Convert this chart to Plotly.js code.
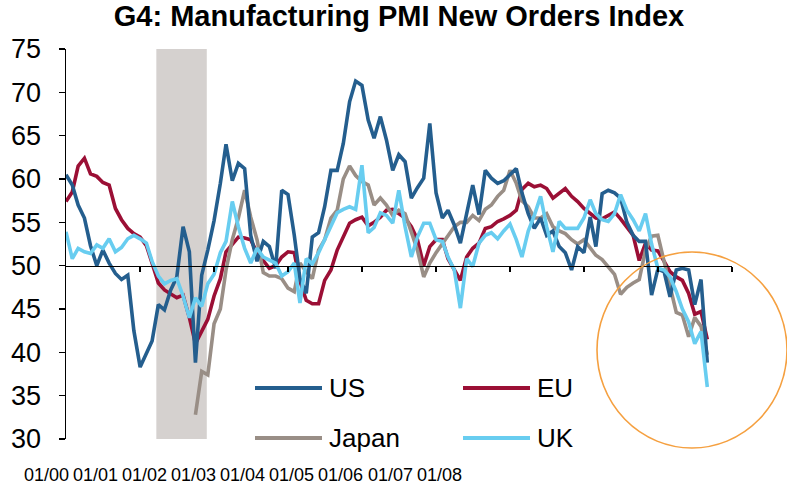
<!DOCTYPE html>
<html>
<head>
<meta charset="utf-8">
<script src="https://cdn.plot.ly/plotly-3.0.1.min.js"></script>
<style>html,body{margin:0;padding:0;background:#fff;}#chart{width:787px;height:488px;}</style>
</head>
<body>
<div id="chart"></div>
<script>
// ---- Data (monthly, Jan 2000 onward) ----
var startYear = 2000;
var seriesNames = ["US", "EU", "Japan", "UK"];
var seriesColors = ["#245E8E", "#9B0F35", "#998E86", "#68CDF0"];

var usValues = [60.5,59.3,57.0,55.5,52.3,50.0,51.8,50.3,49.1,48.4,48.9,42.5,
  38.3,39.9,41.3,45.5,44.9,47.2,48.7,54.5,51.6,38.8,48.9,51.8,
  55.2,59.5,64.0,59.8,61.8,61.2,53.5,50.5,52.8,52.2,49.7,58.7,
  58.2,53.5,48.5,46.8,53.3,53.8,56.8,61.0,61.0,64.1,68.9,71.3,
  70.8,66.8,64.7,67.2,64.5,61.0,62.8,62.0,57.8,59.0,60.1,66.4,
  58.4,55.5,56.4,54.7,52.6,56.0,59.3,55.9,61.0,60.1,59.5,59.8,
  60.5,61.2,58.4,56.0,54.3,55.5,53.5,54.0,52.2,51.5,49.5,52.2,
  51.5,55.6,52.2,58.3,58.7,58.4,57.8,55.0,53.5,52.8,52.8,46.6,
  49.6,49.3,46.4,49.5,49.7,49.5,45.5,48.4,38.8];

var euValues = [57.4,58.5,61.5,62.4,60.6,60.3,59.6,59.3,56.6,55.3,54.3,53.7,
  53.3,52.3,50.3,48.0,47.2,46.7,46.3,46.6,44.0,41.0,42.5,43.8,
  46.5,48.5,51.6,52.5,53.3,53.2,53.0,51.5,50.5,49.7,50.0,51.0,
  51.6,51.5,48.2,46.0,45.6,45.6,48.3,49.5,51.8,53.3,54.9,55.3,
  55.6,54.6,55.0,55.6,56.4,56.5,56.0,55.5,54.5,53.0,50.0,52.2,
  53.0,53.0,50.8,49.5,48.3,51.0,52.0,52.6,54.3,54.5,55.1,55.4,
  55.8,56.4,58.8,59.5,59.1,59.3,58.9,57.8,58.3,58.9,58.0,57.4,
  56.6,56.0,55.5,55.4,55.8,56.2,55.4,54.5,53.5,50.6,52.6,51.8,
  51.7,50.5,49.3,48.7,48.3,46.8,44.4,44.7,41.5];

var japanValues = [null,null,null,null,null,null,null,null,null,null,null,null,
  null,null,null,null,null,null,null,null,null,32.8,37.8,37.4,
  43.3,45.0,49.5,53.0,55.5,58.7,55.6,53.0,49.2,48.8,48.8,48.5,
  47.4,47.0,50.3,49.3,48.5,51.8,53.0,55.5,56.4,60.0,61.5,60.4,
  59.7,59.3,57.0,57.8,57.0,55.8,56.4,56.0,54.0,51.8,48.7,50.3,
  51.5,52.5,53.5,54.5,55.0,55.0,55.8,55.2,56.5,57.0,58.0,58.7,
  61.0,59.5,57.5,56.8,55.5,55.5,56.0,54.5,54.0,53.7,53.0,52.5,
  53.0,52.0,51.2,50.7,49.8,49.0,46.7,47.5,48.0,48.4,51.8,53.4,
  53.5,50.6,47.5,44.6,44.3,41.8,44.0,43.0,39.7];

var ukValues = [53.9,50.8,52.0,51.6,51.4,52.4,52.0,53.1,51.6,52.1,53.1,53.5,
  53.1,52.6,50.5,48.8,47.9,48.3,48.5,46.5,44.0,46.3,45.3,47.9,
  49.0,51.5,52.8,57.4,54.5,52.0,50.3,52.0,51.0,50.6,50.3,48.8,
  49.3,50.3,45.7,50.8,50.2,51.5,53.0,54.5,56.1,56.5,56.8,56.5,
  61.6,53.8,54.4,56.1,55.8,54.9,58.7,54.5,51.0,53.3,54.9,54.9,
  53.0,52.8,51.0,49.5,45.1,50.8,49.9,52.6,53.5,53.8,53.1,54.0,
  54.8,53.0,51.0,54.0,55.8,58.0,54.5,51.6,55.1,54.3,54.3,54.3,
  55.5,57.6,56.0,55.3,55.1,56.0,58.2,56.4,55.3,54.0,56.0,52.5,
  49.7,49.5,48.7,47.0,45.0,43.5,41.0,42.4,36.0];

var xTickLabels = ["01/00","01/01","01/02","01/03","01/04","01/05","01/06","01/07","01/08"];
var axisTickDates = ["2001-01-01","2002-01-01","2003-01-01","2004-01-01","2005-01-01","2006-01-01","2007-01-01","2008-01-01","2009-01-01"];
var recessionStart = "2001-03-22";
var recessionEnd = "2001-11-26";
var yTickValues = [30,35,40,45,50,55,60,65,70,75];

// ---- build month dates ----
function monthDate(i){
  var y = startYear + Math.floor(i/12), m = (i%12)+1;
  return y + "-" + (m<10?"0":"") + m + "-01";
}
var allValues = [usValues, euValues, japanValues, ukValues];
var drawOrder = [1, 2, 0, 3];
var traces = drawOrder.map(function(k){
  var vals = allValues[k];
  return {
    type: "scatter", mode: "lines", name: seriesNames[k],
    x: vals.map(function(_, i){ return monthDate(i); }),
    y: vals,
    line: {color: seriesColors[k], width: 3.6},
    connectgaps: false, showlegend: false, hoverinfo: "x+y+name"
  };
});

// plot area geometry in px (for paper conversion)
var L = 66, T = 49, W = 666, H = 390;
function px2x(p){ return (p - L) / W; }
function px2y(p){ return (T + H - p) / H; }

var shapes = [
  {type: "rect", xref: "x", yref: "paper", x0: recessionStart, x1: recessionEnd, y0: 0, y1: 1,
   fillcolor: "#D5D1CF", line: {width: 0}, layer: "below"},
  {type: "circle", xref: "paper", yref: "paper",
   x0: px2x(597), x1: px2x(787), y0: px2y(448), y1: px2y(252),
   line: {color: "#F5A040", width: 1.6}, fillcolor: "rgba(0,0,0,0)"}
];
var annotations = [];

// manual legend (2x2)
var legendPos = [[255, 388], [463, 388], [255, 438], [463, 438]];
for (var k = 0; k < 4; k++) {
  var lx = legendPos[k][0], ly = legendPos[k][1];
  shapes.push({type: "line", xref: "paper", yref: "paper",
    x0: px2x(lx), x1: px2x(lx + 67), y0: px2y(ly), y1: px2y(ly),
    line: {color: seriesColors[k], width: 4}});
  annotations.push({xref: "paper", yref: "paper", x: px2x(lx + 72), y: px2y(ly),
    xanchor: "left", yanchor: "middle", showarrow: false, text: seriesNames[k],
    font: {family: "Liberation Sans, Arial, sans-serif", size: 26, color: "#000"}});
}

// x tick labels (category labels under the chart)
for (var j = 0; j < xTickLabels.length; j++) {
  annotations.push({xref: "paper", yref: "paper", x: px2x(46 + 49.15 * j), y: px2y(475),
    xanchor: "center", yanchor: "middle", showarrow: false, text: xTickLabels[j],
    font: {family: "Liberation Sans, Arial, sans-serif", size: 18, color: "#000"}});
}

var layout = {
  width: 787, height: 488,
  margin: {l: L, r: 787 - L - W, t: T, b: 488 - T - H, pad: 0},
  paper_bgcolor: "#fff", plot_bgcolor: "rgba(0,0,0,0)",
  showlegend: false,
  title: {text: "<b>G4: Manufacturing PMI New Orders Index</b>",
    font: {family: "Liberation Sans, Arial, sans-serif", size: 29, color: "#000"},
    x: 0.5, xref: "paper", xanchor: "center", y: 1 - 16/488, yref: "container", yanchor: "middle"},
  xaxis: {type: "date", range: ["2000-01-01", "2009-01-01"], anchor: "free", position: (50 - 30) / 45,
    showline: true, linecolor: "#000", linewidth: 1.5, ticks: "outside", ticklen: 5, tickwidth: 1.5,
    tickcolor: "#000", tickmode: "array", tickvals: axisTickDates, showticklabels: false,
    showgrid: false, zeroline: false, fixedrange: true},
  yaxis: {range: [30, 75], tickmode: "array", tickvals: yTickValues,
    showline: true, linecolor: "#000", linewidth: 1.5, ticks: "outside", ticklen: 6, tickwidth: 1.5,
    tickcolor: "#000", showgrid: false, zeroline: false, ticklabelstandoff: 12,
    tickfont: {family: "Liberation Sans, Arial, sans-serif", size: 27, color: "#000"}, fixedrange: true},
  shapes: shapes,
  annotations: annotations
};

Plotly.newPlot("chart", traces, layout, {displayModeBar: false, staticPlot: true});
</script>
</body>
</html>
